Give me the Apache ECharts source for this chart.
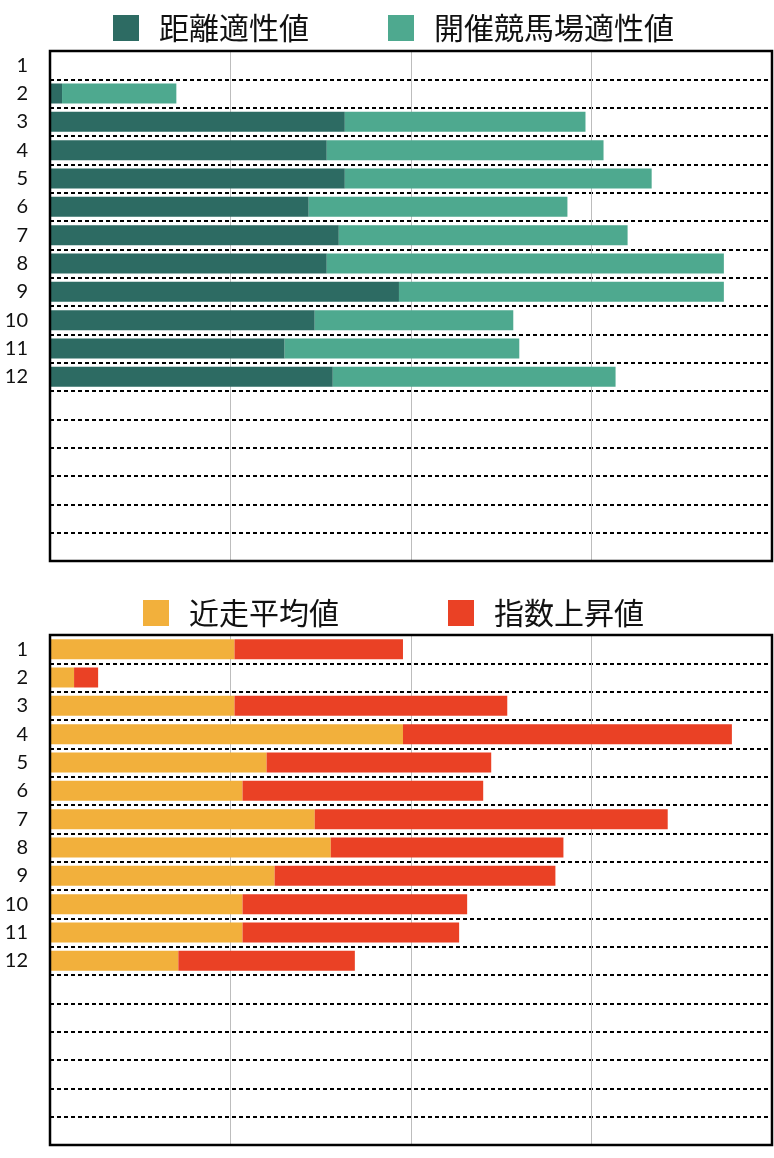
<!DOCTYPE html>
<html>
<head>
<meta charset="utf-8">
<script src="https://cdn.jsdelivr.net/npm/echarts@6/dist/echarts.min.js"></script>
<style>
html,body{margin:0;padding:0;background:#fff;}
#main{width:774px;height:1158px;}
</style>
</head>
<body>
<div id="main"></div>
<script>
// Row labels (18 rows, last 6 blank)
const categories = ['1','2','3','4','5','6','7','8','9','10','11','12','','','','','',''];

// Top chart series
const distanceValues = [null, 2, 49, 46, 49, 43, 48, 46, 58, 44, 39, 47];   // 距離適性値
const venueValues    = [null, 19, 40, 46, 51, 43, 48, 66, 54, 33, 39, 47];  // 開催競馬場適性値

// Bottom chart series
const recentValues = [23, 3, 23, 44, 27, 24, 33, 35, 28, 24, 24, 16];  // 近走平均値
const riseValues   = [21, 3, 34, 41, 28, 30, 44, 29, 35, 28, 27, 22];  // 指数上昇値

const topAxisMax = 120, topAxisInterval = 30;
const bottomAxisMax = 90, bottomAxisInterval = 22.5;

const chart = echarts.init(document.getElementById('main'), null, {renderer: 'canvas'});

const legendText = {fontSize: 30, color: '#111', padding: [0, 0, 0, 15],
                    fontFamily: '"Noto Sans CJK JP", sans-serif'};
function xAxisCfg(gi, max, interval) {
  return {
    type: 'value', gridIndex: gi, min: 0, max: max, interval: interval,
    axisLabel: {show: false}, axisTick: {show: false}, axisLine: {show: false},
    splitLine: {show: true, lineStyle: {color: '#bdbdbd', width: 1}}
  };
}
function yAxisCfg(gi) {
  return {
    type: 'category', gridIndex: gi, data: categories, inverse: true,
    axisTick: {show: false}, axisLine: {show: false},
    axisLabel: {fontSize: 20, color: '#111', margin: 22, padding: [4, 0, 0, 0],
                fontFamily: 'Lato, "Liberation Sans", sans-serif', interval: 0},
    splitLine: {show: true, interval: 0, lineStyle: {color: '#000', width: 2, type: [4, 3]}}
  };
}

chart.setOption({
  animation: false,
  backgroundColor: '#fff',
  legend: [
    {
      data: ['距離適性値', '開催競馬場適性値'], left: 108, top: 8,
      icon: 'rect', itemWidth: 26, itemHeight: 26, itemGap: 79,
      textStyle: legendText
    },
    {
      data: ['近走平均値', '指数上昇値'], left: 138, top: 593,
      icon: 'rect', itemWidth: 26, itemHeight: 26, itemGap: 109,
      textStyle: legendText
    }
  ],
  grid: [
    {left: 50, right: 2, top: 51, height: 510, show: true, borderColor: '#000', borderWidth: 2.5, z: 10, backgroundColor: 'transparent'},
    {left: 50, right: 2, top: 635, height: 510, show: true, borderColor: '#000', borderWidth: 2.5, z: 10, backgroundColor: 'transparent'}
  ],
  xAxis: [xAxisCfg(0, topAxisMax, topAxisInterval), xAxisCfg(1, bottomAxisMax, bottomAxisInterval)],
  yAxis: [yAxisCfg(0), yAxisCfg(1)],
  series: [
    {name: '距離適性値', type: 'bar', stack: 'top', xAxisIndex: 0, yAxisIndex: 0, data: distanceValues, barWidth: 20, itemStyle: {color: '#2d6b63'}},
    {name: '開催競馬場適性値', type: 'bar', stack: 'top', xAxisIndex: 0, yAxisIndex: 0, data: venueValues, barWidth: 20, itemStyle: {color: '#4ea98f'}},
    {name: '近走平均値', type: 'bar', stack: 'bottom', xAxisIndex: 1, yAxisIndex: 1, data: recentValues, barWidth: 20, itemStyle: {color: '#f2b03c'}},
    {name: '指数上昇値', type: 'bar', stack: 'bottom', xAxisIndex: 1, yAxisIndex: 1, data: riseValues, barWidth: 20, itemStyle: {color: '#ea4125'}}
  ]
});
</script>
</body>
</html>
